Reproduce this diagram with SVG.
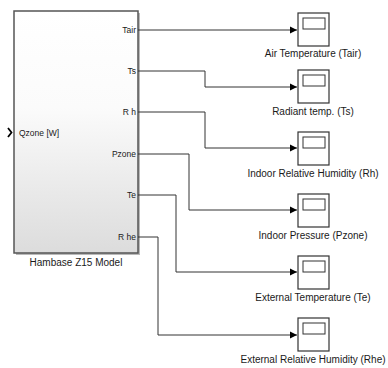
<svg xmlns="http://www.w3.org/2000/svg" width="388" height="368" viewBox="0 0 388 368">
<defs>
<linearGradient id="g" x1="0" y1="0" x2="0" y2="1">
<stop offset="0" stop-color="#ffffff"/>
<stop offset="0.4" stop-color="#fbfbfb"/>
<stop offset="1" stop-color="#dcdcdc"/>
</linearGradient>
<marker id="arr" markerWidth="8" markerHeight="8" refX="7" refY="4" orient="auto" markerUnits="userSpaceOnUse">
<path d="M0,0.5 L7,4 L0,7.5 Z" fill="#000"/>
</marker>
<style>
.lbl{font-family:"Liberation Sans",Arial,sans-serif;font-size:10px;fill:#1a1a1a;text-anchor:middle}
.port{font-family:"Liberation Sans",Arial,sans-serif;font-size:8.5px;fill:#1a1a1a;text-anchor:end}
.wire{fill:none;stroke:#333;stroke-width:1}
.scope{fill:#fff;stroke:#333;stroke-width:1.2}
.screen{fill:#fff;stroke:#333;stroke-width:1}
</style>
</defs>
<g id="model">
<rect x="16" y="13" width="124" height="242" fill="#8a8a8a" opacity="0.6"/>
<rect x="14" y="11" width="124" height="242" fill="url(#g)" stroke="#555" stroke-width="1.5"/>
<path d="M8,128 L11.5,132.5 L8,137" fill="none" stroke="#000" stroke-width="1.8"/>
<text x="19" y="136" font-family="Liberation Sans,Arial,sans-serif" font-size="8.5" fill="#1a1a1a">Qzone [W]</text>
<text class="port" x="136" y="33">Tair</text>
<text class="port" x="136" y="74">Ts</text>
<text class="port" x="136" y="115">R h</text>
<text class="port" x="136" y="157">Pzone</text>
<text class="port" x="136" y="198">Te</text>
<text class="port" x="136" y="240">R he</text>
<text class="lbl" x="76" y="266">Hambase Z15 Model</text>
</g>
<g id="connectors">
<path class="wire" d="M138,30 H297" marker-end="url(#arr)"/>
<path class="wire" d="M138,71 H205 V87 H297" marker-end="url(#arr)"/>
<path class="wire" d="M138,112 H205 V148 H297" marker-end="url(#arr)"/>
<path class="wire" d="M138,154 H189 V210 H297" marker-end="url(#arr)"/>
<path class="wire" d="M138,195 H176 V272 H297" marker-end="url(#arr)"/>
<path class="wire" d="M138,237 H158 V335 H297" marker-end="url(#arr)"/>
</g>
<g id="scope1"><rect class="scope" x="298" y="13" width="31" height="33"/><rect class="screen" x="303" y="18" width="22" height="11"/><text class="lbl" x="313" y="57">Air Temperature (Tair)</text></g>
<g id="scope2"><rect class="scope" x="298" y="70" width="31" height="33"/><rect class="screen" x="303" y="75" width="22" height="11"/><text class="lbl" x="313" y="115">Radiant temp. (Ts)</text></g>
<g id="scope3"><rect class="scope" x="298" y="132" width="31" height="33"/><rect class="screen" x="303" y="137" width="22" height="11"/><text class="lbl" x="313" y="177">Indoor Relative Humidity (Rh)</text></g>
<g id="scope4"><rect class="scope" x="298" y="194" width="31" height="33"/><rect class="screen" x="303" y="199" width="22" height="11"/><text class="lbl" x="313" y="239">Indoor Pressure (Pzone)</text></g>
<g id="scope5"><rect class="scope" x="298" y="256" width="31" height="33"/><rect class="screen" x="303" y="261" width="22" height="11"/><text class="lbl" x="313" y="301">External Temperature (Te)</text></g>
<g id="scope6"><rect class="scope" x="298" y="318" width="31" height="33"/><rect class="screen" x="303" y="323" width="22" height="11"/><text class="lbl" x="313" y="363">External Relative Humidity (Rhe)</text></g>
</svg>
